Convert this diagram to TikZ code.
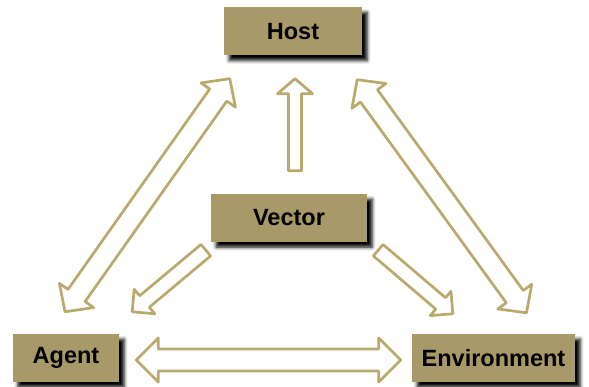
\documentclass[tikz,border=0pt]{standalone}
\usepackage{fontspec}
\setmainfont{Liberation Sans}
\usetikzlibrary{calc,shadows.blur}
\definecolor{boxkhaki}{RGB}{168,154,104}
\definecolor{arrowkhaki}{RGB}{184,170,108}

\begin{document}
\begin{tikzpicture}[x=1pt,y=-1pt,
    box/.style={fill=boxkhaki, inner sep=0pt, minimum height=48pt,
      font=\fontsize{23.5}{28}\selectfont\bfseries,
      blur shadow={shadow xshift=5pt,shadow yshift=-5pt,shadow blur radius=3.5pt,shadow opacity=100}},
    hollow/.style={draw=arrowkhaki, line width=2.7pt, fill=white, line join=round}]
\useasboundingbox (0,0) rectangle (589,387);
\foreach \name/\txt/\x/\y/\w in {
      host/Host/293/31.5/138,
      vector/Vector/289/218/156,
      agent/Agent/66/358/106,
      env/Environment/493.5/358/163
  } {
    \node[box, minimum width=\w pt] (\name) at (\x,\y) {\txt};
  }
% arrow ends
\coordinate (vh0) at ($(vector.north)+(6,-23)$);
\coordinate (vh1) at ($(host.south)+(2,23)$);
\coordinate (va0) at ($(vector.south west)+(-5,8)$);
\coordinate (va1) at ($(agent.north east)+(13,-22)$);
\coordinate (ve0) at ($(vector.south east)+(11,8)$);
\coordinate (ve1) at ($(env.north west)+(41,-20)$);
\coordinate (ah0) at ($(agent.north)+(-1,-22)$);
\coordinate (ah1) at ($(host.south west)+(6,23)$);
\coordinate (eh0) at ($(env.north)+(33,-21)$);
\coordinate (eh1) at ($(host.south east)+(-5,24)$);
\coordinate (ae0) at ($(agent.east)+(17,2)$);
\coordinate (ae1) at ($(env.west)+(-11,2)$);
% one-way arrows
\foreach \ta/\tb/\sw/\hw/\hl in {
      vh0/vh1/6.5pt/17.5pt/15pt,
      va0/va1/7.5pt/16pt/16pt,
      ve0/ve1/7.5pt/16pt/16pt
  } {
    \coordinate (hb) at ($(\tb)!\hl!(\ta)$);
    \draw[hollow] ($(\ta)!\sw!90:(\tb)$) -- ($(hb)!\sw!90:(\tb)$) -- ($(hb)!\hw!90:(\tb)$)
      -- (\tb) -- ($(hb)!\hw!-90:(\tb)$) -- ($(hb)!\sw!-90:(\tb)$) -- ($(\ta)!\sw!-90:(\tb)$) -- cycle;
  }
% two-way arrows
\foreach \ta/\tb/\sw/\hw/\hl in {
      ah0/ah1/10.5pt/21pt/20pt,
      eh0/eh1/10.5pt/21pt/20pt,
      ae0/ae1/11pt/22pt/22pt
  } {
    \coordinate (ha) at ($(\ta)!\hl!(\tb)$);
    \coordinate (hb) at ($(\tb)!\hl!(\ta)$);
    \draw[hollow] (\ta) -- ($(ha)!\hw!90:(\tb)$) -- ($(ha)!\sw!90:(\tb)$)
      -- ($(hb)!\sw!-90:(\ta)$) -- ($(hb)!\hw!-90:(\ta)$) -- (\tb)
      -- ($(hb)!\hw!90:(\ta)$) -- ($(hb)!\sw!90:(\ta)$)
      -- ($(ha)!\sw!-90:(\tb)$) -- ($(ha)!\hw!-90:(\tb)$) -- cycle;
  }
\end{tikzpicture}
\end{document}
